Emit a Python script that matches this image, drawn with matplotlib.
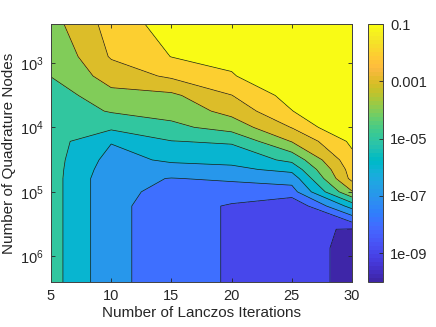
import numpy as np
import matplotlib
matplotlib.use('Agg')
import matplotlib.pyplot as plt
from matplotlib.colors import ListedColormap, LogNorm
from matplotlib.cm import ScalarMappable
from matplotlib.ticker import NullLocator

plt.rcParams['font.family'] = ['Liberation Sans', 'DejaVu Sans']
plt.rcParams['mathtext.fontset'] = 'custom'
plt.rcParams['mathtext.rm'] = 'Liberation Sans'
plt.rcParams['mathtext.it'] = 'Liberation Sans:italic'

# MATLAB parula, 64 entries
parula = ListedColormap([
    [0.2422, 0.1504, 0.6603], [0.2504, 0.1650, 0.7076], [0.2578, 0.1818, 0.7511], [0.2647, 0.1978, 0.7952],
    [0.2706, 0.2147, 0.8364], [0.2751, 0.2342, 0.8710], [0.2783, 0.2559, 0.8991], [0.2803, 0.2782, 0.9221],
    [0.2813, 0.3006, 0.9414], [0.2810, 0.3228, 0.9579], [0.2795, 0.3447, 0.9717], [0.2760, 0.3667, 0.9829],
    [0.2699, 0.3892, 0.9906], [0.2602, 0.4123, 0.9952], [0.2440, 0.4358, 0.9988], [0.2206, 0.4603, 0.9973],
    [0.1963, 0.4847, 0.9892], [0.1834, 0.5074, 0.9798], [0.1786, 0.5289, 0.9682], [0.1764, 0.5499, 0.9520],
    [0.1687, 0.5703, 0.9359], [0.1540, 0.5902, 0.9218], [0.1460, 0.6091, 0.9079], [0.1380, 0.6276, 0.8973],
    [0.1248, 0.6459, 0.8883], [0.1113, 0.6635, 0.8763], [0.0952, 0.6798, 0.8598], [0.0689, 0.6948, 0.8394],
    [0.0297, 0.7082, 0.8163], [0.0036, 0.7203, 0.7917], [0.0067, 0.7312, 0.7660], [0.0433, 0.7411, 0.7394],
    [0.0964, 0.7500, 0.7120], [0.1408, 0.7584, 0.6842], [0.1717, 0.7670, 0.6554], [0.1938, 0.7758, 0.6251],
    [0.2161, 0.7843, 0.5923], [0.2470, 0.7918, 0.5567], [0.2906, 0.7973, 0.5188], [0.3406, 0.8008, 0.4789],
    [0.3909, 0.8029, 0.4354], [0.4456, 0.8024, 0.3909], [0.5044, 0.7993, 0.3480], [0.5616, 0.7942, 0.3045],
    [0.6174, 0.7876, 0.2612], [0.6720, 0.7793, 0.2227], [0.7242, 0.7698, 0.1910], [0.7738, 0.7598, 0.1646],
    [0.8203, 0.7498, 0.1535], [0.8634, 0.7406, 0.1596], [0.9035, 0.7330, 0.1774], [0.9393, 0.7288, 0.2100],
    [0.9728, 0.7298, 0.2394], [0.9956, 0.7434, 0.2371], [0.9970, 0.7659, 0.2199], [0.9952, 0.7893, 0.2028],
    [0.9892, 0.8136, 0.1885], [0.9786, 0.8386, 0.1766], [0.9676, 0.8639, 0.1643], [0.9610, 0.8890, 0.1537],
    [0.9597, 0.9135, 0.1423], [0.9628, 0.9373, 0.1265], [0.9691, 0.9606, 0.1064], [0.9769, 0.9839, 0.0805],
])

iterations = [5, 10, 15, 20, 25, 30]
nodes = [250, 800, 1600, 3200, 5600, 10000, 16500, 32000, 45000, 62000,
         100000, 166000, 380000, 740000, 2500000]
# log10 of the error: one row per node count, one column per iteration count
log_err = [
    [-3.38, -1.61, -0.52, -0.35, -0.10, 0.10],
    [-3.90, -1.90, -0.98, -0.70, -0.05, 0.20],
    [-3.97, -2.58, -1.83, -1.09, 0.00, 0.25],
    [-4.60, -3.28, -3.20, -2.02, -0.61, 0.30],
    [-4.60, -3.92, -3.62, -2.68, -1.03, 0.30],
    [-4.58, -4.79, -4.25, -3.59, -1.96, 0.22],
    [-4.56, -5.94, -5.03, -4.87, -2.95, -0.80],
    [-4.58, -6.36, -5.83, -5.72, -4.75, -1.29],
    [-4.58, -6.56, -6.43, -6.23, -5.71, -1.55],
    [-4.57, -6.74, -7.03, -6.86, -6.59, -1.70],
    [-4.57, -6.74, -7.26, -7.46, -7.40, -3.08],
    [-4.57, -6.74, -7.50, -8.11, -8.90, -5.60],
    [-4.57, -6.74, -7.50, -8.11, -8.86, -9.05],
    [-4.57, -6.74, -7.50, -8.11, -8.60, -9.23],
    [-4.57, -6.74, -7.50, -8.11, -8.60, -9.23],
]
levels = list(range(-10, 0))
cbar_ticks = [1e-9, 1e-7, 1e-5, 1e-3, 1e-1]
cbar_labels = ['1e-09', '1e-07', '1e-05', '0.001', '0.1']

x = np.array(iterations, dtype=float)
y = np.log10(nodes)
z = np.array(log_err)

dark = '#262626'
fig = plt.figure(figsize=(4.36, 3.27), dpi=100)
ax = fig.add_axes([51 / 436, 45 / 327, 301 / 436, 258 / 327])

band_colors = [parula((lv + 10) / 9) for lv in levels]
ax.contourf(x, y, z, levels=levels + [2], colors=band_colors)
ax.contour(x, y, z, levels=levels[1:], colors='#1a1a1a', linewidths=0.5,
           linestyles='solid')

ax.set_xlim(5, 30)
ax.set_ylim(y.max(), y.min())
ax.set_xticks(iterations)
ax.set_yticks([3, 4, 5, 6])
ax.set_yticklabels(['$10^{%d}$' % k for k in [3, 4, 5, 6]])
ax.tick_params(direction='in', length=3, width=0.6, top=True, right=True,
               colors=dark, labelsize=10.5, pad=5)
for s in ax.spines.values():
    s.set_color('#404040')
    s.set_linewidth(0.7)
ax.set_xlabel('Number of Lanczos Iterations', fontsize=11, color=dark, labelpad=2)
ax.set_ylabel('Number of Quadrature Nodes', fontsize=11, color=dark, labelpad=3)

cax = fig.add_axes([368 / 436, 45 / 327, 15 / 436, 258 / 327])
sm = ScalarMappable(norm=LogNorm(1e-10, 1e-1), cmap=parula)
cb = fig.colorbar(sm, cax=cax)
cb.set_ticks(cbar_ticks)
cb.set_ticklabels(cbar_labels)
cax.yaxis.set_minor_locator(NullLocator())
cax.tick_params(direction='in', length=3, width=0.6, colors=dark, labelsize=10.5, pad=5)
cb.outline.set_edgecolor('#404040')
cb.outline.set_linewidth(0.7)

fig.savefig('out.png', dpi=100)
